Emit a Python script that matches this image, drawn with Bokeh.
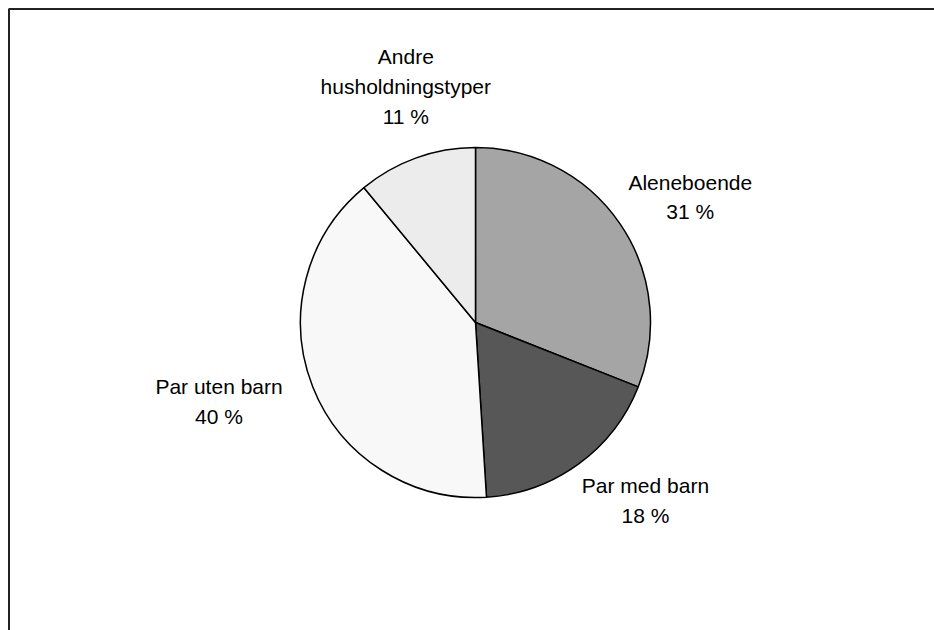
import math
from bokeh.plotting import figure
from bokeh.models import Range1d, ColumnDataSource
from bokeh.core.properties import value
from bokeh.embed import file_html
from bokeh.resources import INLINE

# data
categories = ["Aleneboende", "Par med barn", "Par uten barn", "Andre\nhusholdningstyper"]
shares = [31, 18, 40, 11]
colors = ["#a5a5a5", "#575757", "#f8f8f8", "#ececec"]

# layout
W, H = 934, 630
CX, CY = 475, 308
R = 175
R_LABEL = 250
label_nudges = [(8, 15), (23, -24), (-24, -13), (15, -1)]  # pixel nudges

p = figure(width=W, height=H, output_backend="svg", toolbar_location=None,
           x_range=Range1d(0, W), y_range=Range1d(0, H), min_border=0)
p.axis.visible = False
p.xgrid.visible = False
p.ygrid.visible = False
p.outline_line_color = None
p.background_fill_color = "white"
p.border_fill_color = "white"

total = sum(shares)
starts, ends, mids = [], [], []
cum = 0
for s in shares:
    a0 = math.pi / 2 - 2 * math.pi * cum / total
    cum += s
    a1 = math.pi / 2 - 2 * math.pi * cum / total
    starts.append(a0)
    ends.append(a1)
    mids.append((a0 + a1) / 2)

src = ColumnDataSource(dict(x=[CX] * len(shares), y=[CY] * len(shares),
                            start=starts, end=ends, color=colors))
p.wedge(x="x", y="y", radius=R, start_angle="start", end_angle="end",
        direction="clock", fill_color="color", line_color="black",
        line_width=1.5, source=src)

lx = [CX + R_LABEL * math.cos(m) for m in mids]
ly = [CY + R_LABEL * math.sin(m) for m in mids]
texts = [f"{c}\n{s} %" for c, s in zip(categories, shares)]
lsrc = ColumnDataSource(dict(x=lx, y=ly, t=texts,
                             xo=[n[0] for n in label_nudges],
                             yo=[n[1] for n in label_nudges]))
p.text(x="x", y="y", text="t", x_offset="xo", y_offset="yo", source=lsrc,
       text_align="center", text_baseline="middle",
       text_font=value("Liberation Sans"), text_font_size="21px",
       text_line_height=1.3, text_color="#000000")

# frame: top and left borders starting at the corner
p.line(x=[8.5, 8.5, W + 5], y=[-5, H - 8.5, H - 8.5],
       line_color="#222222", line_width=2)

open("out.html", "w").write(file_html(p, INLINE))
